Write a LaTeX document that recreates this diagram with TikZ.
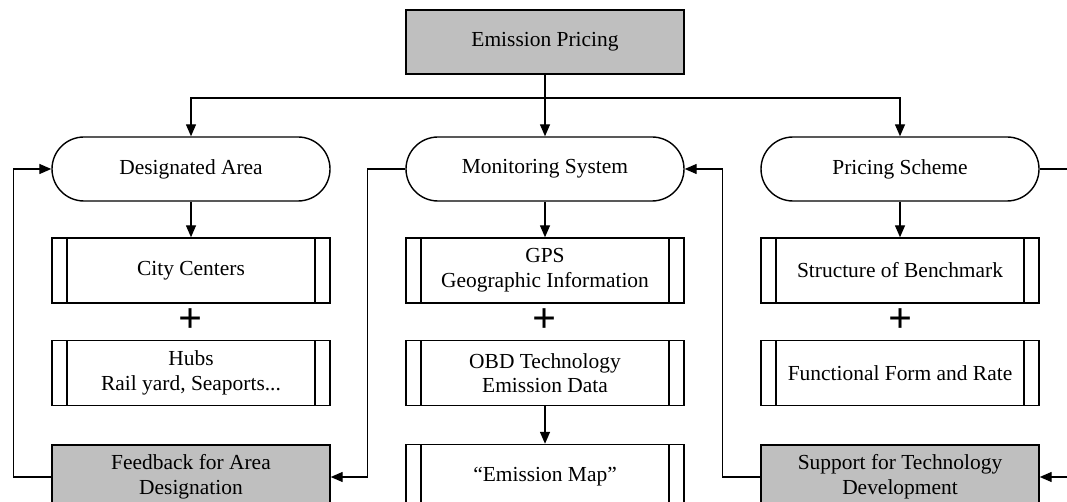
\documentclass[tikz,border=0pt]{standalone}
\usepackage{fontspec}
\setmainfont{Liberation Serif}
\usetikzlibrary{arrows.meta}

\begin{document}
\begin{tikzpicture}[x=0.2mm,y=-0.2mm,line width=0.8pt,
	font=\fontsize{12.2}{14}\selectfont,
	term/.style={draw,rectangle,rounded corners=6.4mm,minimum width=55.6mm,minimum height=12.8mm},
	proc/.style={draw,rectangle,align=center,minimum width=55.6mm,minimum height=13mm,
		path picture={
			\draw ([xshift=3mm]path picture bounding box.north west) -- ([xshift=3mm]path picture bounding box.south west);
			\draw ([xshift=-3mm]path picture bounding box.north east) -- ([xshift=-3mm]path picture bounding box.south east);}},
	graybox/.style={draw,rectangle,align=center,fill=gray!50,minimum width=55.6mm,minimum height=12.8mm},
	plus/.style={font=\fontsize{24}{24}\selectfont\bfseries,inner sep=0pt},
	link/.style={-{Triangle[length=2.4mm,width=2mm]}}]
		\useasboundingbox (0,0) rectangle (1067,502);
		\clip (0,0) rectangle (1067,502);
		% top
		\node[graybox] (EP) at (545, 42) {Emission Pricing};
		\coordinate (split) at (545, 98);
		% three columns
		\node[term] (DA) at (191, 169) {Designated Area};
		\node[term] (MS) at (545, 169) {Monitoring System};
		\node[term] (PS) at (900, 169) {Pricing Scheme};
		\node[proc] (CC) at (191, 270.5) {City Centers};
		\node[proc] (GPS) at (545, 270.5) {GPS\\Geographic Information};
		\node[proc] (SB) at (900, 270.5) {Structure of Benchmark};
		\node[plus] (P1) at (191, 321) {+};
		\node[plus] (P2) at (545, 321) {+};
		\node[plus] (P3) at (900, 321) {+};
		\node[proc] (HB) at (191, 373) {Hubs\\Rail yard, Seaports...};
		\node[proc] (OBD) at (545, 373) {OBD Technology\\Emission Data};
		\node[proc] (FF) at (900, 373) {Functional Form and Rate};
		\node[graybox] (FB) at (191, 477) {Feedback for Area\\Designation};
		\node[proc] (EM) at (545, 477) {“Emission Map”};
		\node[graybox] (SU) at (900, 477) {Support for Technology\\Development};
		\coordinate (PSout) at (1080, 169);
		\coordinate (SUin) at (1080, 477);
		% connectors
		\draw (EP) -- (split);
		\draw[link] (split) -| (DA.north);
		\draw[link] (split) -- (MS.north);
		\draw[link] (split) -| (PS.north);
		\draw[link] (DA) -- (CC);
		\draw[link] (MS) -- (GPS);
		\draw[link] (PS) -- (SB);
		\draw[link] (OBD) -- (EM);
		% feedback loops
		\draw[link] (FB.west) -- ++(-38,0) |- (DA.west);
		\draw[link] (MS.west) -- ++(-38,0) |- (FB.east);
		\draw[link] (SU.west) -- ++(-38,0) |- (MS.east);
		\draw (PS.east) -- (PSout);
		\draw[link] (SUin) -- (SU.east);
	\end{tikzpicture}
\end{document}
